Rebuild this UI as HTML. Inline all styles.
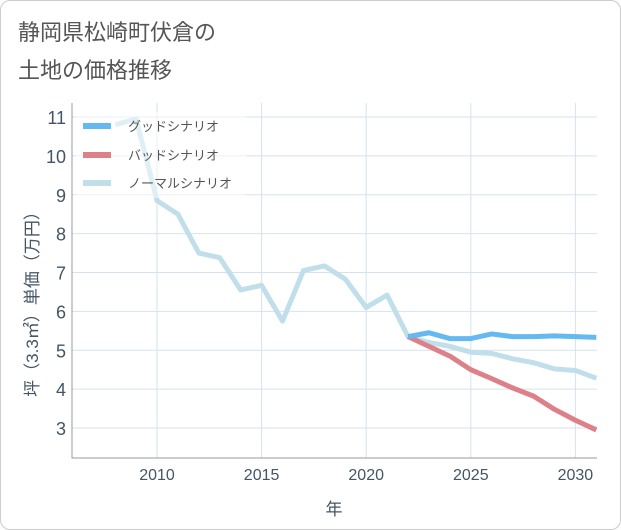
<!DOCTYPE html>
<html><head><meta charset="utf-8"><style>
body{margin:0;background:#fff;font-family:"Liberation Sans","Noto Sans CJK JP",sans-serif}
#card{position:absolute;left:0;top:0;width:619px;height:528px;border:1px solid #ccc;border-radius:10px;background:#fff}
</style></head><body>
<div id="card"></div>
<svg id="c" width="621" height="530" style="position:absolute;left:0;top:0">
<text x="18" y="40" font-size="22" fill="#555">静岡県松崎町伏倉の</text>
<text x="18" y="78" font-size="22" fill="#555">土地の価格推移</text>
<text transform="translate(38,300) rotate(-90)" text-anchor="middle" font-size="17" fill="#456">坪（3.3㎡）単価（万円）</text>
<text x="334" y="515" text-anchor="middle" font-size="17" fill="#456">年</text>
<g id="grid"></g><g id="series"></g><g id="legend"></g>
</svg>
<script>
const years=[2008,2009,2010,2011,2012,2013,2014,2015,2016,2017,2018,2019,2020,2021,2022,2023,2024,2025,2026,2027,2028,2029,2030,2031];
const normal=[10.8,10.95,8.85,8.5,7.5,7.38,6.55,6.67,5.75,7.05,7.17,6.83,6.1,6.42,5.35,5.2,5.1,4.95,4.92,4.78,4.68,4.52,4.48,4.28];
const fYears=[2022,2023,2024,2025,2026,2027,2028,2029,2030,2031];
const good=[5.35,5.45,5.3,5.3,5.42,5.35,5.35,5.37,5.35,5.33];
const bad=[5.35,5.1,4.85,4.5,4.27,4.03,3.82,3.48,3.2,2.95];
const xTicks=[2010,2015,2020,2025,2030];
const yTicks=[3,4,5,6,7,8,9,10,11];
const NS='http://www.w3.org/2000/svg';
const L=72,R=597,T=103,B=458;
const x=v=>157+(v-2010)*20.92;
const y=v=>428-(v-3)*38.875;
function mk(t,a,p){const e=document.createElementNS(NS,t);for(const k in a)e.setAttribute(k,a[k]);p.appendChild(e);return e;}
const g=document.getElementById('grid');
for(const v of yTicks){
 const l=mk('line',{x1:L,x2:R,y1:y(v),y2:y(v),stroke:'#d5e3ee','stroke-width':1},g);
 
 
 const t=mk('text',{x:66,y:y(v)+7,'text-anchor':'end','font-size':18,fill:'#456'},g);t.textContent=v;
 
 
}
for(const v of xTicks){
 const l=mk('line',{x1:x(v),x2:x(v),y1:T,y2:B,stroke:'#d5e3ee','stroke-width':1},g);
 
 
 const t=mk('text',{x:x(v),y:480,'text-anchor':'middle','font-size':16,fill:'#456'},g);t.textContent=v;
 
 
}
const ax=mk('path',{d:`M${L},${T}V${B}H${R}`,fill:'none',stroke:'#999','stroke-width':1},g);


const s=document.getElementById('series');
function line(xs,vs,c,n){
 const p=mk('polyline',{points:xs.map((yr,i)=>x(yr)+','+y(vs[i])).join(' '),fill:'none',stroke:c,'stroke-width':5,'stroke-linejoin':'round'},s);
 
 
}
line(years,normal,'#c1deeb','normal-scenario-line');
line(fYears,bad,'#dd8088','bad-scenario-line');
line(fYears,good,'#63b9f0','good-scenario-line');
const lg=document.getElementById('legend');
const bg=mk('rect',{x:76,y:112,width:170,height:86,fill:'#fff','fill-opacity':0.5},lg);


[['グッドシナリオ','#63b9f0',126],['バッドシナリオ','#dd8088',155],['ノーマルシナリオ','#c1deeb',183]].forEach(([n,c,yy])=>{
 const r=mk('rect',{x:83,y:yy-3,width:28,height:6,fill:c},lg);
 
 
 const t=mk('text',{x:128,y:yy+5,'font-size':13,fill:'#555'},lg);t.textContent=n;
 
 
});
</script>
</body></html>
